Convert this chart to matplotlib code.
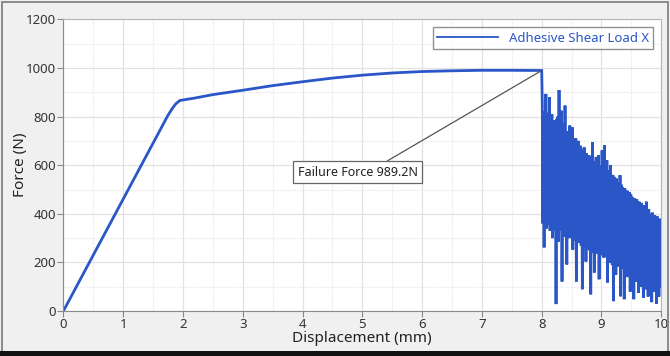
"""Adhesive shear test: force vs displacement up to and past bond failure."""

import matplotlib
matplotlib.use("Agg")
import matplotlib.pyplot as plt
from matplotlib.patches import Rectangle
from matplotlib.ticker import MultipleLocator

plt.rcParams["font.family"] = ["Noto Sans", "DejaVu Sans"]

# loading curve up to failure
load_x = [0.0, 0.5, 1.0, 1.5, 1.75, 1.82, 1.88, 1.95, 2.2, 2.5, 3.0, 3.5,
          4.0, 4.5, 5.0, 5.5, 6.0, 6.5, 7.0, 7.5, 8.0]
load_y = [0, 230, 460, 690, 805, 832, 852, 866, 876, 890, 908, 927,
          943, 958, 970, 979, 985, 988, 990, 990, 989.2]

# post-failure chatter, alternating peak / trough
frac_x = [8.01, 8.02, 8.03, 8.04, 8.05, 8.06, 8.07, 8.08, 8.09, 8.10,
          8.11, 8.12, 8.13, 8.14, 8.15, 8.16, 8.17, 8.18, 8.19, 8.20,
          8.21, 8.22, 8.23, 8.24, 8.25, 8.26, 8.27, 8.28, 8.29, 8.30,
          8.31, 8.32, 8.33, 8.34, 8.35, 8.36, 8.37, 8.38, 8.39, 8.40,
          8.41, 8.42, 8.43, 8.44, 8.45, 8.46, 8.47, 8.48, 8.49, 8.50,
          8.51, 8.52, 8.53, 8.54, 8.55, 8.56, 8.57, 8.58, 8.59, 8.60,
          8.61, 8.62, 8.63, 8.64, 8.65, 8.66, 8.67, 8.68, 8.69, 8.70,
          8.71, 8.72, 8.73, 8.74, 8.75, 8.76, 8.77, 8.78, 8.79, 8.80,
          8.81, 8.82, 8.83, 8.84, 8.85, 8.86, 8.87, 8.88, 8.89, 8.90,
          8.91, 8.92, 8.93, 8.94, 8.95, 8.96, 8.97, 8.98, 8.99, 9.00,
          9.01, 9.02, 9.03, 9.04, 9.05, 9.06, 9.07, 9.08, 9.09, 9.10,
          9.11, 9.12, 9.13, 9.14, 9.15, 9.16, 9.17, 9.18, 9.19, 9.20,
          9.21, 9.22, 9.23, 9.24, 9.25, 9.26, 9.27, 9.28, 9.29, 9.30,
          9.31, 9.32, 9.33, 9.34, 9.35, 9.36, 9.37, 9.38, 9.39, 9.40,
          9.41, 9.42, 9.43, 9.44, 9.45, 9.46, 9.47, 9.48, 9.49, 9.50,
          9.51, 9.52, 9.53, 9.54, 9.55, 9.56, 9.57, 9.58, 9.59, 9.60,
          9.61, 9.62, 9.63, 9.64, 9.65, 9.66, 9.67, 9.68, 9.69, 9.70,
          9.71, 9.72, 9.73, 9.74, 9.75, 9.76, 9.77, 9.78, 9.79, 9.80,
          9.81, 9.82, 9.83, 9.84, 9.85, 9.86, 9.87, 9.88, 9.89, 9.90,
          9.91, 9.92, 9.93, 9.94, 9.95, 9.96, 9.97, 9.98, 9.99, 10.00]
frac_y = [850, 360, 820, 262, 810, 380, 893, 340, 815, 355,
          800, 370, 879, 330, 790, 350, 810, 300, 780, 330,
          785, 340, 770, 29, 790, 330, 800, 286, 909, 350,
          760, 330, 824, 122, 770, 320, 760, 306, 845, 330,
          740, 192, 716, 320, 735, 300, 763, 325, 720, 310,
          756, 253, 710, 315, 700, 290, 710, 122, 690, 300,
          700, 280, 661, 290, 680, 270, 654, 90, 665, 275,
          673, 260, 640, 204, 650, 270, 630, 255, 641, 250,
          620, 69, 635, 250, 695, 240, 615, 159, 610, 245,
          634, 235, 600, 240, 641, 131, 590, 250, 600, 230,
          661, 241, 585, 220, 682, 224, 575, 230, 620, 118,
          580, 215, 570, 200, 600, 210, 552, 190, 560, 41,
          552, 195, 540, 150, 545, 200, 520, 184, 530, 190,
          559, 61, 520, 185, 510, 175, 500, 49, 505, 180,
          485, 170, 495, 140, 471, 175, 490, 80, 480, 165,
          470, 160, 457, 49, 465, 150, 450, 120, 460, 140,
          440, 76, 450, 145, 430, 100, 445, 135, 420, 55,
          435, 130, 415, 90, 450, 125, 410, 60, 420, 120,
          400, 110, 389, 37, 405, 115, 380, 80, 395, 105,
          370, 30, 390, 100, 360, 60, 380, 95, 350, 160]

failure_x = 8.0
failure_force = 989.2

BLUE = "#2a56c8"

fig = plt.figure(figsize=(6.7, 3.56), dpi=100, facecolor="#f0f0f0")
ax = fig.add_axes([0.0945, 0.126, 0.8925, 0.82])
ax.set_facecolor("white")

ax.plot(load_x + frac_x, load_y + frac_y, color=BLUE, lw=2.0,
        label="Adhesive Shear Load X", solid_joinstyle="miter")

ax.set_xlim(0, 10)
ax.set_ylim(0, 1200)
ax.xaxis.set_major_locator(MultipleLocator(1))
ax.xaxis.set_minor_locator(MultipleLocator(0.5))
ax.yaxis.set_major_locator(MultipleLocator(200))
ax.yaxis.set_minor_locator(MultipleLocator(100))
ax.grid(which="major", color="#e2e2e2", lw=0.9)
ax.grid(which="minor", color="#ececec", lw=0.8, ls=(0, (2, 1)))
ax.set_axisbelow(True)
ax.tick_params(which="major", length=4, width=0.8, color="#888888",
               labelsize=9.5, labelcolor="#333333", pad=1)
ax.tick_params(which="minor", length=0)
for side in ["left", "bottom"]:
    ax.spines[side].set_color("#8a8a8a")
for side in ["top", "right"]:
    ax.spines[side].set_color("#b5b5b5")

ax.set_xlabel("Displacement (mm)", fontsize=11, color="#222222", labelpad=0)
ax.set_ylabel("Force (N)", fontsize=11, color="#222222", labelpad=-1)

ax.annotate(f"Failure Force {failure_force}N",
            xy=(failure_x, failure_force), xytext=(4.92, 571),
            ha="center", va="center", fontsize=9, color="#222222",
            bbox=dict(boxstyle="square,pad=0.35", fc="white", ec="#666666", lw=0.9),
            arrowprops=dict(arrowstyle="-", color="#555555", lw=0.9,
                            relpos=(0.68, 1.0), shrinkA=0, shrinkB=0))

leg = ax.legend(loc="upper right", fontsize=9.5, frameon=True, fancybox=False,
                handlelength=4.6, borderpad=0.35, borderaxespad=0.6,
                labelcolor=BLUE)
leg.get_frame().set_edgecolor("#777777")
leg.get_frame().set_linewidth(1.0)
leg.get_lines()[0].set_linewidth(1.3)

# window frame
fig.add_artist(Rectangle((0.003, 0.0), 0.994, 0.995, transform=fig.transFigure,
                         fill=False, ec="#7a7a7a", lw=1.2))
fig.add_artist(Rectangle((0.0, 0.0), 1.0, 0.015, transform=fig.transFigure,
                         fc="#111111", ec="none"))

fig.savefig("out.png", dpi=100, facecolor=fig.get_facecolor())
